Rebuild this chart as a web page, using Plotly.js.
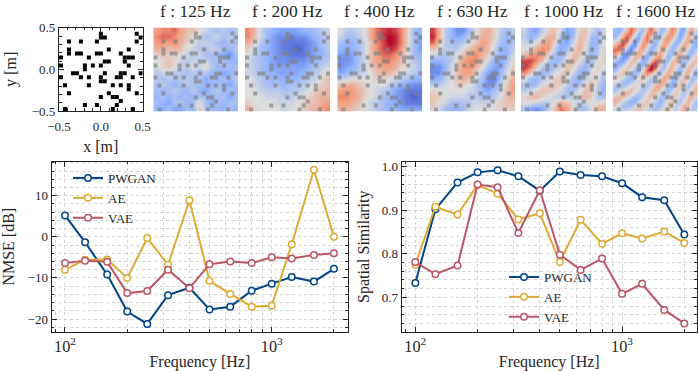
<!DOCTYPE html>
<html>
<head>
<meta charset="utf-8">
<script src="https://cdn.plot.ly/plotly-3.0.1.min.js"></script>
<style>html,body{margin:0;padding:0;background:#fff}</style>
</head>
<body>
<div id="myDiv" style="width:698px;height:371px"></div>
<script>
var freqs = [100,125,160,200,250,315,400,500,630,800,1000,1250,1600,2000];

var nmsePwgan = [5.2,-1.3,-9.2,-18.2,-21.2,-14.2,-12.4,-17.7,-17.0,-13.1,-11.4,-9.8,-10.9,-7.8];
var nmseAe = [-8.0,-5.6,-5.5,-10.0,-0.3,-6.8,8.9,-10.7,-13.9,-17.0,-16.8,-1.8,16.3,0.0];
var nmseVae = [-6.4,-5.8,-6.1,-13.7,-13.2,-8.0,-12.5,-6.7,-6.0,-6.4,-5.0,-5.3,-4.4,-4.0];

var simPwgan = [0.733,0.902,0.964,0.987,0.992,0.978,0.945,0.989,0.981,0.978,0.962,0.930,0.923,0.844];
var simAe = [0.775,0.908,0.890,0.958,0.938,0.879,0.893,0.781,0.878,0.823,0.847,0.835,0.851,0.825];
var simVae = [0.781,0.753,0.773,0.959,0.953,0.848,0.946,0.798,0.763,0.789,0.708,0.731,0.671,0.640];

// microphone cells on the 21x21 grid, row 0 is the top
var micCols = [10,19, 10,11,20, 2,5,9,19, 2,12,17, 2,4,5,9,10,15, 0,7,16,17,18, 11,12,16, 0,6,8,10,17, 6, 3,4,11,15,16,20, 0,5,7,10,14,15,18, 10,11, 1,7,13,15,17, 17, 2,12,19, 10,13,14, 15, 6,9,14, 1,13,18];
var micRows = [1,1, 2,2,2, 3,3,3,3, 5,5,5, 6,6,6,6,6,6, 7,7,7,7,7, 8,8,8, 9,9,9,9,9, 10, 11,11,11,11,11,11, 12,12,12,12,12,12,12, 13,13, 14,14,14,14,14, 15, 16,16,16, 17,17,17, 18, 19,19,19, 20,20,20];

// field values, top row first, -9 (blue) to 9 (red)
var field125 = [
[4,5,5,6,4,2,2,0,-1,-2,-3,-2,-3,-2],
[5,6,6,5,3,2,0,-1,-3,-2,-1,-3,-2,-3],
[4,5,4,5,3,1,0,-2,-1,-2,-3,-4,-2,-3],
[3,3,2,3,2,0,-1,-2,-3,-1,-2,-3,-4,-2],
[1,2,1,1,0,-1,-2,-1,-3,-3,-4,-5,-6,-3],
[0,0,2,1,-1,-2,-1,-2,-1,-3,-3,-3,-4,-4],
[-1,1,2,0,-1,-2,0,-1,1,-2,-4,-3,-3,-3],
[-2,-1,-1,-2,-2,-3,-2,-3,-2,-4,-3,-5,-4,-3],
[-2,-3,-2,-3,-2,-2,-3,-2,-5,-3,-4,-3,-4,-2],
[-3,-2,-3,-4,-3,-2,-3,-3,-4,-4,-3,-4,-5,-3],
[-3,-4,-3,-2,-3,-4,-2,-4,-5,-3,-2,-4,-3,-4],
[-4,-3,-4,-3,-4,-3,-4,-3,-3,-4,-3,-3,-5,-3],
[-3,-4,-5,-3,-2,-4,-3,1,-3,-5,-3,-4,-3,-3],
[-4,-5,-3,-5,-5,-3,-4,2,-3,-3,-4,-4,-3,-4]];
var field200 = [
[5,3,-1,-3,-4,-5,-5,-5,-5,-4,-4,-3,-2,-1],
[5,2,-1,-3,-5,-6,-6,-7,-6,-6,-5,-4,-3,-2],
[3,1,-2,-4,-5,-6,-7,-7,-7,-7,-6,-5,-3,-2],
[1,-1,-3,-4,-5,-6,-7,-7,-8,-7,-6,-5,-4,-2],
[0,-2,-3,-4,-5,-6,-6,-7,-7,-7,-6,-5,-4,-3],
[-1,-2,-3,-4,-5,-6,-6,-6,-6,-6,-5,-4,-3,-2],
[-1,-2,-3,-4,-5,-5,-5,-5,-5,-5,-4,-3,-2,-1],
[-1,-2,-3,-4,-4,-5,-5,-5,-5,-4,-3,-2,-1,1],
[0,-1,-2,-3,-4,-4,-4,-4,-4,-3,-2,-1,0,2],
[0,-1,-2,-3,-3,-3,-4,-3,-3,-2,-1,0,1,2],
[0,0,-1,-2,-2,-2,-3,-2,-2,-1,0,1,2,3],
[0,0,0,-1,-1,-1,-2,-2,-1,0,1,2,3,3],
[1,0,0,0,0,-1,-1,-1,0,1,2,2,3,4],
[3,1,0,0,0,0,-1,0,0,1,2,3,4,5]];
var field400 = [
[0,-2,-2,-1,0,3,6,7,8,7,5,1,-3,-4],
[-1,-3,-3,-2,0,3,6,8,9,8,5,1,-3,-5],
[-3,-4,-4,-3,-1,2,5,7,9,8,5,1,-3,-5],
[-4,-5,-4,-3,-1,2,5,7,8,7,4,0,-3,-5],
[-5,-6,-5,-3,-1,2,4,6,6,5,3,0,-3,-4],
[-6,-6,-5,-3,-1,2,4,5,5,4,2,0,-2,-3],
[-6,-5,-4,-3,-1,1,3,4,4,3,1,0,-1,-3],
[-5,-4,-3,-2,-1,0,2,3,3,1,0,-1,-2,-3],
[-2,-1,0,0,0,0,1,1,0,-1,-2,-3,-4,-4],
[2,3,3,2,1,0,0,0,-2,-3,-4,-5,-6,-6],
[4,5,4,3,1,0,-1,-2,-3,-5,-6,-7,-7,-7],
[5,5,4,3,1,0,-1,-3,-4,-5,-6,-7,-8,-7],
[4,4,3,2,0,-1,-2,-3,-4,-5,-6,-7,-7,-7],
[3,3,2,1,0,-1,-2,-3,-4,-4,-5,-5,-5,-5]];
var field630 = [
[7,3,-2,-4,-6,-6,-3,0,2,3,1,-2,-3,-2],
[8,3,-2,-4,-5,-4,-2,1,3,3,1,-2,-4,-3],
[6,2,-2,-3,-3,-2,0,2,4,3,0,-3,-4,-3],
[2,0,-2,-2,-2,0,2,4,4,2,-1,-4,-4,-2],
[-1,-2,-3,-2,0,2,4,5,3,1,-2,-4,-4,-1],
[-4,-4,-3,-2,1,4,5,5,2,-1,-4,-5,-3,0],
[-6,-6,-4,-1,2,4,5,3,0,-3,-5,-5,-2,1],
[-6,-6,-3,-1,2,4,4,1,-2,-5,-6,-4,-1,2],
[-5,-4,-2,0,2,3,2,-1,-3,-6,-7,-3,0,3],
[-2,-2,-1,0,1,1,0,-2,-4,-6,-5,-2,1,4],
[1,0,0,0,0,0,-1,-2,-4,-5,-3,-1,2,4],
[2,1,0,-1,-1,-1,-2,-2,-3,-3,-2,0,2,3],
[2,0,-1,-3,-3,-3,-2,-1,-1,-1,0,1,2,2],
[1,-1,-3,-4,-4,-3,-1,0,0,0,0,1,1,1]];
var field1000 = [
[-1,-4,-5,-2,1,2,-1,-5,-4,1,2,-1,-3,-1],
[-2,-4,-3,0,3,3,-3,-6,-3,2,2,-3,-4,-1],
[-1,-2,0,3,4,1,-4,-5,-1,3,1,-4,-4,0],
[0,1,3,5,4,-1,-5,-3,1,3,0,-4,-3,1],
[2,4,5,5,1,-3,-4,-1,2,2,-1,-4,-2,1],
[7,7,5,2,-2,-4,-3,1,3,0,-3,-3,0,1],
[8,6,2,-2,-4,-3,-1,2,1,-2,-4,-2,1,0],
[5,2,-2,-4,-3,-1,1,2,-1,-4,-4,0,1,-2],
[0,-3,-4,-2,-1,1,2,0,-3,-5,-2,1,0,-3],
[-3,-4,-3,0,1,2,1,-2,-4,-3,1,2,-1,-4],
[-2,-1,1,2,2,1,-1,-3,-3,0,2,2,-2,-4],
[1,2,3,1,0,-1,-2,-3,-1,1,3,1,-2,-3],
[0,0,-1,-2,-2,0,3,2,0,-2,-1,0,0,1],
[-3,-5,-6,-5,-2,2,6,4,0,-3,-3,0,3,3]];
var field1600 = [
[-3,-5,-2,2,6,4,-1,-4,3,6,2,-3,-3,1,5,4,-4,-5,1,4,-1],
[-4,-3,1,5,6,1,-4,-2,5,5,-1,-4,-1,3,5,1,-5,-3,3,3,-3],
[-3,0,4,7,3,-3,-5,2,6,2,-3,-3,2,5,3,-2,-5,-1,4,1,-4],
[0,3,7,6,-1,-6,-3,4,5,-1,-4,-1,4,4,0,-4,-3,2,4,-1,-5],
[3,6,7,1,-5,-6,1,5,2,-3,-4,2,4,2,-3,-4,0,4,2,-3,-4],
[6,6,2,-4,-7,-2,3,4,-1,-5,-2,3,3,-1,-4,-2,3,3,-1,-4,-2],
[5,2,-4,-7,-4,2,4,1,-4,-4,1,4,1,-3,-3,1,3,1,-3,-4,0],
[1,-3,-6,-5,0,3,2,-3,-5,-1,4,5,-1,-4,-1,3,2,-2,-4,-1,2],
[-3,-5,-5,-1,2,2,-2,-5,-3,3,7,4,-3,-3,2,3,-1,-4,-2,2,2],
[-5,-4,-1,1,2,-1,-4,-4,2,8,9,0,-4,0,3,1,-3,-4,1,3,0],
[-4,-1,1,2,0,-3,-5,0,6,9,4,-3,-2,2,3,-1,-4,-1,3,1,-3],
[-1,1,2,0,-3,-4,-2,3,5,3,-2,-3,1,4,1,-3,-4,2,3,-1,-4],
[1,1,0,-3,-4,-3,0,2,1,-2,-3,0,4,3,-2,-5,-1,3,1,-3,-3],
[0,-1,-3,-4,-3,-1,1,1,-2,-3,-1,3,4,0,-4,-4,2,2,-1,-3,0],
[-2,-3,-3,-2,0,1,0,-2,-3,-1,3,4,1,-3,-5,-1,2,0,-3,-1,2],
[-3,-2,0,1,2,1,-1,-3,-2,1,3,2,-2,-4,-2,1,1,-2,-2,1,3],
[-1,1,3,3,1,-1,-3,-2,0,2,2,-1,-3,-3,0,2,-1,-3,0,3,2],
[2,3,2,0,-2,-4,-3,-1,1,2,0,-3,-3,-1,2,1,-2,-2,2,3,-1],
[3,2,-1,-3,-4,-4,-1,1,2,0,-2,-4,-2,1,2,0,-3,0,3,0,-3],
[1,-1,-3,-3,-3,-1,1,2,1,-1,-3,-3,-1,2,1,-2,-1,3,3,-2,-3],
[-1,-2,-2,-1,0,1,2,1,-1,-2,-3,-1,1,2,0,-2,1,4,1,-2,-2]];

var fields = [field125, field200, field400, field630, field1000, field1600];
var fieldLabels = ['f : 125 Hz','f : 200 Hz','f : 400 Hz','f : 630 Hz','f : 1000 Hz','f : 1600 Hz'];
var fieldLeft = [153.3, 245, 337.3, 430, 521, 612.7];
var fieldWidth = 85;

var W = 698, H = 371;
var serif = '"Liberation Serif", "Times New Roman", serif';
var ink = '#262626';
var blue = '#004488', yellow = '#DDAA33', red = '#BB5566';
var coolwarm = [[0,'#3b4cc0'],[0.25,'#8db0fe'],[0.5,'#dddddd'],[0.75,'#f49a7b'],[1,'#b40426']];

function xDom(a, b) { return [a / W, b / W]; }
function yDom(top, bottom) { return [1 - bottom / H, 1 - top / H]; }

var micX = micCols.map(function (c) { return (c + 0.5) / 21; });
var micY = micRows.map(function (r) { return 1 - (r + 0.5) / 21; });

function micTrace(xa, ya, color, opacity, shift) {
  return {
    type: 'scatter', mode: 'markers', showlegend: false, hoverinfo: 'skip',
    x: micX.map(function (v) { return v + shift; }),
    y: micY.map(function (v) { return v + shift; }),
    marker: {symbol: 'square', size: 4, color: color, opacity: opacity, line: {width: 0}},
    xaxis: xa, yaxis: ya
  };
}

var data = [];
var layout = {
  width: W, height: H,
  margin: {l: 0, r: 0, t: 0, b: 0},
  paper_bgcolor: '#fff', plot_bgcolor: '#fff',
  font: {family: serif, size: 13, color: ink},
  annotations: [],
  showlegend: true
};

// microphone layout panel
data.push(micTrace('x', 'y', '#000', 1, -0.5));
function boxAxis(extra) {
  var a = {
    showline: true, linecolor: '#222', linewidth: 1.2, mirror: 'allticks',
    ticks: 'inside', ticklen: 5, tickwidth: 1, tickcolor: '#222',
    zeroline: false, showgrid: false,
    tickfont: {family: serif, size: 13, color: ink}
  };
  for (var k in extra) a[k] = extra[k];
  return a;
}
layout.xaxis = boxAxis({
  domain: xDom(59, 142.7), range: [-0.5, 0.5], dtick: 0.5, tickformat: '.1f', anchor: 'y',
  ticklabelstandoff: 3,
  minor: {dtick: 0.1, ticks: 'inside', ticklen: 2.5, tickcolor: '#222'},
  title: {text: 'x [m]', font: {family: serif, size: 16, color: ink}, standoff: 8}
});
layout.yaxis = boxAxis({
  domain: yDom(27.7, 111), range: [-0.5, 0.5], dtick: 0.5, tickformat: '.1f', anchor: 'x',
  minor: {dtick: 0.1, ticks: 'inside', ticklen: 2.5, tickcolor: '#222'},
  title: {text: 'y [m]', font: {family: serif, size: 16, color: ink}, standoff: 11}
});

// sound field panels
fields.forEach(function (f, i) {
  var n = f.length, id = i + 2;
  data.push({
    type: 'heatmap', z: f.slice().reverse(), x0: 0.5 / n, dx: 1 / n, y0: 0.5 / n, dy: 1 / n,
    zmin: -9, zmax: 9, zsmooth: 'best', colorscale: coolwarm, showscale: false, hoverinfo: 'skip',
    xaxis: 'x' + id, yaxis: 'y' + id
  });
  data.push(micTrace('x' + id, 'y' + id, 'rgb(128,128,128)', 0.65, 0));
  layout['xaxis' + id] = {domain: xDom(fieldLeft[i], fieldLeft[i] + fieldWidth), range: [0, 1], visible: false, anchor: 'y' + id};
  layout['yaxis' + id] = {domain: yDom(27.5, 111.5), range: [0, 1], visible: false, anchor: 'x' + id};
  layout.annotations.push({
    xref: 'paper', yref: 'paper', x: (fieldLeft[i] + fieldWidth / 2) / W, y: 1 - 11 / H,
    xanchor: 'center', yanchor: 'middle', showarrow: false, text: fieldLabels[i],
    font: {family: serif, size: 17.5, color: ink}
  });
});

// line panels
function lineTrace(name, y, color, xa, ya, legendId) {
  return {
    type: 'scatter', mode: 'lines+markers', name: name, x: freqs, y: y,
    line: {color: color, width: 2},
    marker: {symbol: 'circle', size: 6.5, color: '#fff', line: {color: color, width: 1.5}},
    xaxis: xa, yaxis: ya, legend: legendId
  };
}
data.push(lineTrace('PWGAN', nmsePwgan, blue, 'x8', 'y8', 'legend'));
data.push(lineTrace('AE', nmseAe, yellow, 'x8', 'y8', 'legend'));
data.push(lineTrace('VAE', nmseVae, red, 'x8', 'y8', 'legend'));
data.push(lineTrace('PWGAN', simPwgan, blue, 'x9', 'y9', 'legend2'));
data.push(lineTrace('AE', simAe, yellow, 'x9', 'y9', 'legend2'));
data.push(lineTrace('VAE', simVae, red, 'x9', 'y9', 'legend2'));

var gridCol = '#d4d4d4';
function freqAxis(left, right, lo, hi, anchor) {
  return boxAxis({
    domain: xDom(left, right), type: 'log', range: [lo, hi], dtick: 1, anchor: anchor,
    exponentformat: 'power', linewidth: 1.4,
    showgrid: true, gridcolor: gridCol, griddash: 'dot', gridwidth: 0.8,
    minor: {dtick: 'D1', ticks: 'inside', ticklen: 2.5, tickcolor: '#222', showgrid: true, gridcolor: gridCol, griddash: 'dot', gridwidth: 0.8},
    title: {text: 'Frequency [Hz]', font: {family: serif, size: 16, color: ink}, standoff: 6}
  });
}
function valueAxis(range, dtick, minorTick, text, anchor, tf, standoff) {
  return boxAxis({
    domain: yDom(161.7, 331.7), range: range, dtick: dtick, anchor: anchor, tickformat: tf, linewidth: 1.4,
    showgrid: true, gridcolor: gridCol, griddash: 'dot', gridwidth: 0.8,
    minor: {dtick: minorTick, ticks: 'inside', ticklen: 2.5, tickcolor: '#222', showgrid: true, gridcolor: gridCol, griddash: 'dot', gridwidth: 0.8},
    title: {text: text, font: {family: serif, size: 16, color: ink}, standoff: standoff}
  });
}
layout.xaxis8 = freqAxis(51.7, 348, 1.9357, 3.369, 'y8');
layout.yaxis8 = valueAxis([-23.09, 18.27], 10, 2, 'NMSE [dB]', 'x8', 'd', 8);
layout.xaxis9 = freqAxis(401.7, 696.7, 1.934, 3.361, 'y9');
layout.yaxis9 = valueAxis([0.621, 1.0115], 0.1, 0.02, 'Spatial Similarity', 'x9', '.1f', 8);

var legendBase = {bgcolor: 'rgba(0,0,0,0)', borderwidth: 0, xanchor: 'left', yanchor: 'top', font: {family: serif, size: 13, color: ink}, itemwidth: 30, tracegroupgap: 0};
layout.legend = Object.assign({x: 68 / W, y: 1 - 163 / H}, legendBase);
layout.legend2 = Object.assign({x: 504 / W, y: 1 - 262 / H}, legendBase);

Plotly.newPlot('myDiv', data, layout, {displayModeBar: false});
</script>
</body>
</html>
